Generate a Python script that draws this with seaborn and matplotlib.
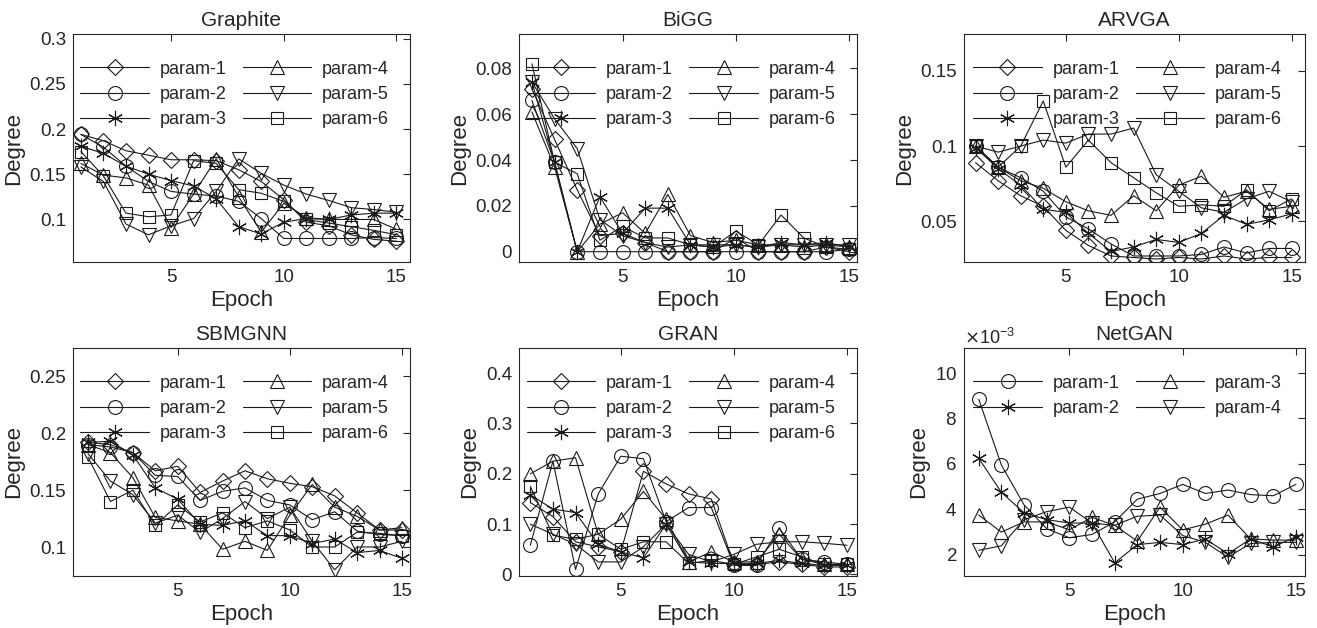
import numpy as np
import pandas as pd
import matplotlib
matplotlib.use("Agg")
import matplotlib.pyplot as plt
from matplotlib.ticker import ScalarFormatter
import seaborn as sns

epochs = list(range(1, 16))

# ---- Graphite
graphite = {
    "param-1": [0.194, 0.187, 0.176, 0.171, 0.166, 0.166, 0.165, 0.155, 0.142, 0.122, 0.097, 0.093, 0.083, 0.078, 0.076],
    "param-2": [0.194, 0.180, 0.159, 0.142, 0.131, 0.128, 0.126, 0.120, 0.101, 0.079, 0.079, 0.079, 0.079, 0.080, 0.079],
    "param-3": [0.181, 0.173, 0.159, 0.150, 0.143, 0.137, 0.123, 0.092, 0.084, 0.097, 0.101, 0.100, 0.105, 0.107, 0.107],
    "param-4": [0.162, 0.149, 0.146, 0.138, 0.091, 0.128, 0.167, 0.125, 0.086, 0.118, 0.102, 0.100, 0.100, 0.100, 0.089],
    "param-5": [0.158, 0.142, 0.095, 0.083, 0.093, 0.101, 0.131, 0.167, 0.151, 0.138, 0.128, 0.121, 0.113, 0.111, 0.108],
    "param-6": [0.175, 0.148, 0.107, 0.103, 0.105, 0.165, 0.162, 0.133, 0.129, 0.120, 0.100, 0.096, 0.092, 0.088, 0.083],
}

# ---- BiGG
bigg = {
    "param-1": [0.071, 0.049, 0.027, 0.007, 0.008, 0.004, 0.000, 0.000, 0.000, 0.006, 0.000, 0.000, 0.000, 0.002, 0.000],
    "param-2": [0.066, 0.039, 0.000, 0.000, 0.000, 0.000, 0.000, 0.000, 0.000, 0.000, 0.000, 0.000, 0.000, 0.000, 0.001],
    "param-3": [0.074, 0.039, 0.000, 0.024, 0.008, 0.019, 0.019, 0.003, 0.002, 0.003, 0.002, 0.004, 0.003, 0.004, 0.002],
    "param-4": [0.061, 0.037, 0.000, 0.012, 0.017, 0.008, 0.025, 0.007, 0.004, 0.005, 0.003, 0.003, 0.002, 0.003, 0.002],
    "param-5": [0.074, 0.058, 0.045, 0.014, 0.007, 0.004, 0.002, 0.003, 0.003, 0.003, 0.002, 0.003, 0.003, 0.003, 0.003],
    "param-6": [0.082, 0.039, 0.034, 0.005, 0.011, 0.006, 0.006, 0.003, 0.002, 0.009, 0.003, 0.016, 0.006, 0.002, 0.001],
}

# ---- ARVGA
arvga = {
    "param-1": [0.089, 0.077, 0.067, 0.060, 0.044, 0.034, 0.027, 0.026, 0.025, 0.026, 0.025, 0.027, 0.025, 0.026, 0.026],
    "param-2": [0.100, 0.086, 0.079, 0.070, 0.053, 0.045, 0.035, 0.027, 0.027, 0.027, 0.028, 0.033, 0.029, 0.032, 0.032],
    "param-3": [0.099, 0.085, 0.074, 0.058, 0.056, 0.042, 0.030, 0.033, 0.038, 0.036, 0.042, 0.054, 0.048, 0.051, 0.055],
    "param-4": [0.100, 0.086, 0.077, 0.072, 0.063, 0.057, 0.054, 0.067, 0.057, 0.074, 0.080, 0.066, 0.070, 0.058, 0.060],
    "param-5": [0.100, 0.096, 0.100, 0.104, 0.102, 0.108, 0.108, 0.112, 0.081, 0.070, 0.059, 0.056, 0.065, 0.070, 0.063],
    "param-6": [0.100, 0.086, 0.100, 0.130, 0.086, 0.104, 0.089, 0.079, 0.069, 0.060, 0.061, 0.060, 0.071, 0.057, 0.065],
}

# ---- SBMGNN
sbmgnn = {
    "param-1": [0.192, 0.190, 0.183, 0.167, 0.171, 0.148, 0.158, 0.167, 0.160, 0.156, 0.153, 0.145, 0.130, 0.115, 0.115],
    "param-2": [0.190, 0.188, 0.183, 0.163, 0.162, 0.141, 0.149, 0.152, 0.141, 0.137, 0.124, 0.131, 0.114, 0.111, 0.110],
    "param-3": [0.192, 0.193, 0.181, 0.152, 0.142, 0.120, 0.119, 0.123, 0.110, 0.110, 0.103, 0.107, 0.095, 0.097, 0.090],
    "param-4": [0.190, 0.183, 0.161, 0.126, 0.123, 0.120, 0.098, 0.105, 0.097, 0.128, 0.155, 0.135, 0.127, 0.115, 0.117],
    "param-5": [0.182, 0.158, 0.146, 0.121, 0.128, 0.113, 0.125, 0.140, 0.125, 0.135, 0.105, 0.080, 0.100, 0.100, 0.105],
    "param-6": [0.179, 0.140, 0.150, 0.119, 0.137, 0.122, 0.130, 0.117, 0.123, 0.115, 0.100, 0.100, 0.113, 0.112, 0.110],
}

# ---- GRAN
gran = {
    "param-1": [0.143, 0.115, 0.065, 0.055, 0.045, 0.205, 0.180, 0.160, 0.150, 0.020, 0.020, 0.025, 0.020, 0.015, 0.015],
    "param-2": [0.058, 0.225, 0.010, 0.160, 0.235, 0.230, 0.105, 0.133, 0.133, 0.018, 0.018, 0.092, 0.030, 0.025, 0.020],
    "param-3": [0.158, 0.130, 0.123, 0.060, 0.045, 0.033, 0.100, 0.025, 0.022, 0.022, 0.022, 0.028, 0.022, 0.018, 0.018],
    "param-4": [0.200, 0.225, 0.232, 0.080, 0.110, 0.165, 0.110, 0.025, 0.045, 0.025, 0.025, 0.080, 0.030, 0.020, 0.020],
    "param-5": [0.100, 0.080, 0.060, 0.025, 0.025, 0.055, 0.100, 0.040, 0.025, 0.040, 0.060, 0.065, 0.065, 0.062, 0.058],
    "param-6": [0.175, 0.078, 0.070, 0.080, 0.050, 0.065, 0.065, 0.022, 0.028, 0.020, 0.035, 0.050, 0.035, 0.020, 0.020],
}

# ---- NetGAN (values x 1e-3)
netgan = {
    "param-1": [8.85, 5.95, 4.20, 3.15, 2.75, 2.90, 3.45, 4.45, 4.70, 5.10, 4.70, 4.85, 4.65, 4.60, 5.10],
    "param-2": [6.25, 4.75, 3.85, 3.55, 3.40, 3.40, 1.65, 2.45, 2.55, 2.45, 2.70, 2.05, 2.70, 2.35, 2.80],
    "param-3": [3.75, 3.00, 3.45, 3.45, 3.10, 3.65, 3.30, 2.60, 4.10, 3.10, 3.35, 3.75, 2.70, 2.65, 2.65],
    "param-4": [2.20, 2.40, 3.55, 3.90, 4.10, 3.40, 3.30, 3.70, 3.75, 2.85, 2.55, 1.90, 2.50, 2.55, 2.55],
}

titles = ["Graphite", "BiGG", "ARVGA", "SBMGNN", "GRAN", "NetGAN"]
datasets = [graphite, bigg, arvga, sbmgnn, gran, netgan]

six_markers = ["D", "o", (6, 2, 0), "^", "v", "s"]
netgan_markers = ["o", (6, 2, 0), "^", "v"]
marker_sizes = {"D": 8, "o": 10, "^": 10, "v": 10, "s": 8}

ylims = [(0.053, 0.305), (-0.0045, 0.095), (0.023, 0.1745),
         (0.0745, 0.275), (-0.003, 0.45), (1.07e-3, 11.1e-3)]
xlims = [(0.65, 15.6), (0.43, 15.35), (0.49, 15.59),
         (0.33, 15.36), (0.5, 15.44), (0.35, 15.4)]
yticks = [[0.1, 0.15, 0.2, 0.25, 0.3],
          [0, 0.02, 0.04, 0.06, 0.08],
          [0.05, 0.1, 0.15],
          [0.1, 0.15, 0.2, 0.25],
          [0, 0.1, 0.2, 0.3, 0.4],
          [2e-3, 4e-3, 6e-3, 8e-3, 10e-3]]
yticklabels = [["0.1", "0.15", "0.2", "0.25", "0.3"],
               ["0", "0.02", "0.04", "0.06", "0.08"],
               ["0.05", "0.1", "0.15"],
               ["0.1", "0.15", "0.2", "0.25"],
               ["0", "0.1", "0.2", "0.3", "0.4"],
               None]

sns.set_style("white")
plt.rcParams["font.family"] = ["Liberation Sans", "DejaVu Sans"]
plt.rcParams["axes.unicode_minus"] = True

fig = plt.figure(figsize=(13.17, 6.28), dpi=100)

lefts = [73, 519, 964]
widths = [337, 338, 341]
tops = [34, 348]
W, H = 1317, 628
ax_h = 228

ink = "#262626"

for i, (title, data) in enumerate(zip(titles, datasets)):
    r, c = divmod(i, 3)
    ax = fig.add_axes([lefts[c] / W, 1 - (tops[r] + ax_h) / H, widths[c] / W, ax_h / H])
    markers = netgan_markers if title == "NetGAN" else six_markers
    for (name, vals), m in zip(data.items(), markers):
        y = np.array(vals) * (1e-3 if title == "NetGAN" else 1.0)
        ms = marker_sizes.get(m, 10) if isinstance(m, str) else 11
        sns.lineplot(x=epochs, y=y, ax=ax, color="#1a1a1a", marker=m,
                     markersize=ms, mfc="none", mec="#1a1a1a", mew=0.8,
                     linewidth=0.8, label=name)

    ax.set_xlim(*xlims[i])
    ax.set_ylim(*ylims[i])
    ax.set_xticks([5, 10, 15])
    ax.set_yticks(yticks[i])
    if yticklabels[i] is not None:
        ax.set_yticklabels(yticklabels[i])
    else:
        fmt = ScalarFormatter(useMathText=True)
        fmt.set_powerlimits((-3, -3))
        ax.yaxis.set_major_formatter(fmt)
        ax.yaxis.get_offset_text().set_fontsize(13)
        ax.yaxis.get_offset_text().set_color(ink)

    ax.tick_params(direction="in", length=5, width=0.8, labelsize=13.5,
                   colors=ink, top=True, right=True, pad=5)
    for s in ax.spines.values():
        s.set_color("#262626")
        s.set_linewidth(0.8)

    ax.set_title(title, fontsize=15, color=ink, pad=6)
    ax.set_xlabel("Epoch", fontsize=16, color=ink, labelpad=3)
    ax.set_ylabel("Degree", fontsize=16, color=ink, labelpad=4)

    ax.legend(ncol=2, loc="upper center", bbox_to_anchor=(0.48, 0.93),
              frameon=False, fontsize=13, handlelength=3.8,
              handletextpad=0.6, columnspacing=0.9, labelspacing=0.45,
              borderaxespad=0.2)

fig.savefig("out.png", dpi=100)
